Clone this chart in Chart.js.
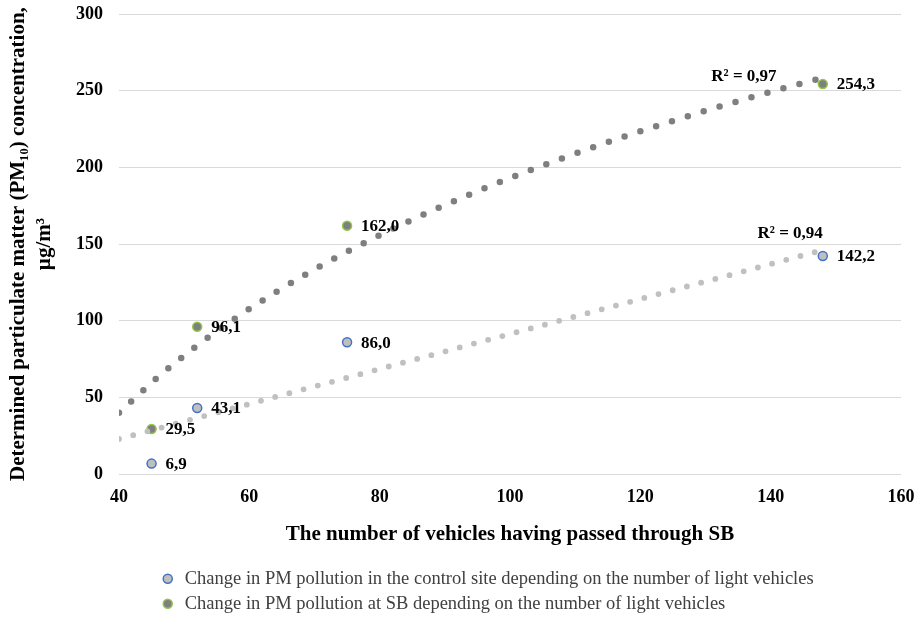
<!DOCTYPE html>
<html>
<head>
<meta charset="utf-8">
<title>PM10 vs vehicles</title>
<script src="https://cdn.jsdelivr.net/npm/chart.js@4/dist/chart.umd.min.js"></script>
<style>
    html, body { margin: 0; padding: 0; background: #ffffff; }
    #wrap { width: 918px; height: 617px; position: relative; }
</style>
</head>
<body>
<div id="wrap"><canvas id="pmChart"></canvas></div>
<script>
// Number of vehicles at each measurement
var vehicles = [45, 52, 75, 148];

// PM10 concentration, control site and SB
var controlValues = [6.9, 43.1, 86.0, 142.2];
var sbValues = [29.5, 96.1, 162.0, 254.3];

// Trend lines
var trendX = [40, 46, 52, 58, 64, 70, 76, 82, 88, 94, 100, 106, 112, 118, 124, 130, 136, 142, 148];
var sbTrend = [40.0, 63.4, 83.9, 102.1, 118.5, 133.5, 147.2, 159.9, 171.7, 182.7, 193.1, 202.8, 212.0, 220.7, 229.0, 236.9, 244.4, 251.6, 258.5];
var controlTrend = [23.0, 29.8, 36.7, 43.5, 50.4, 57.2, 64.0, 70.9, 77.7, 84.6, 91.4, 98.2, 105.1, 111.9, 118.8, 125.6, 132.4, 139.3, 146.1];

// Axis ticks
var xTicks = [40, 60, 80, 100, 120, 140, 160];
var yTicks = [0, 50, 100, 150, 200, 250, 300];

var seriesNames = [
    'Change in PM pollution in the control site depending on the number of light vehicles',
    'Change in PM pollution at SB depending on the number of light vehicles'
];
var r2Texts = ['R\u00b2 = 0,97', 'R\u00b2 = 0,94'];

var FONT = '"Liberation Serif", "Times New Roman", serif';
Chart.defaults.font.family = FONT;

function toPoints(xs, ys) {
    var pts = [];
    for (var i = 0; i < xs.length; i++) {
        pts.push({ x: xs[i], y: ys[i] });
    }
    return pts;
}

// Value labels next to the markers and the R² texts
var valueLabels = {
    id: 'valueLabels',
    afterDatasetsDraw: function(chart) {
        var ctx = chart.ctx;
        ctx.save();
        ctx.font = 'bold 17px ' + FONT;
        ctx.fillStyle = '#000000';
        ctx.textBaseline = 'middle';
        ctx.textAlign = 'left';
        for (var d = 0; d < 2; d++) {
            var meta = chart.getDatasetMeta(d);
            var data = chart.data.datasets[d].data;
            for (var j = 0; j < meta.data.length; j++) {
                var pt = meta.data[j];
                ctx.fillText(data[j].y.toFixed(1).replace('.', ','), pt.x + 14, pt.y + 1);
            }
        }
        var xs = chart.scales.x;
        var ys = chart.scales.y;
        ctx.textAlign = 'center';
        ctx.fillText(r2Texts[0], xs.getPixelForValue(135.9), ys.getPixelForValue(259.5));
        ctx.fillText(r2Texts[1], xs.getPixelForValue(143.0), ys.getPixelForValue(156.9));
        ctx.restore();
    }
};

// Move the legend rows so they start under the plot, like the original
var legendShift = {
    id: 'legendShift',
    beforeDraw: function(chart) {
        if (chart.legend) {
            chart.legend.left = 153.5;
        }
    }
};

var ctx = document.getElementById('pmChart').getContext('2d');

var pmChart = new Chart(ctx, {
    type: 'scatter',
    data: {
        datasets: [{
            label: seriesNames[0],
            data: toPoints(vehicles, controlValues),
            backgroundColor: '#bfbfbf',
            borderColor: '#4472c4',
            borderWidth: 1.5,
            pointStyle: 'circle',
            pointRadius: 4.5,
            order: 2
        }, {
            label: seriesNames[1],
            data: toPoints(vehicles, sbValues),
            backgroundColor: '#7f7f7f',
            borderColor: '#92c84a',
            borderWidth: 1.5,
            pointStyle: 'circle',
            pointRadius: 4.5,
            order: 2
        }, {
            label: 'sbTrend',
            data: toPoints(trendX, sbTrend),
            showLine: true,
            pointRadius: 0,
            borderColor: '#7f7f7f',
            borderWidth: 6.5,
            borderDash: [0, 16.6],
            borderCapStyle: 'round',
            cubicInterpolationMode: 'monotone',
            order: 1
        }, {
            label: 'controlTrend',
            data: toPoints(trendX, controlTrend),
            showLine: true,
            pointRadius: 0,
            borderColor: '#c0c0c0',
            borderWidth: 5.8,
            borderDash: [0, 14.7],
            borderCapStyle: 'round',
            cubicInterpolationMode: 'monotone',
            order: 1
        }]
    },
    options: {
        responsive: true,
        maintainAspectRatio: false,
        animation: false,
        layout: {
            padding: { top: 14, right: 17, bottom: -6, left: 0 }
        },
        scales: {
            x: {
                type: 'linear',
                min: 40,
                max: 160,
                afterBuildTicks: function(scale) {
                    scale.ticks = xTicks.map(function(v) { return { value: v }; });
                },
                // no vertical grid; invisible tick marks give the gap below the plot
                grid: {
                    display: true,
                    color: 'rgba(0,0,0,0)',
                    drawTicks: true,
                    tickLength: 12
                },
                border: { display: false },
                ticks: {
                    color: '#000000',
                    font: { size: 18, weight: 'bold' },
                    padding: 0
                },
                title: {
                    display: true,
                    text: 'The number of vehicles having passed through SB',
                    color: '#000000',
                    font: { size: 21, weight: 'bold' },
                    padding: { top: 14, bottom: 16 }
                }
            },
            y: {
                min: 0,
                max: 300,
                afterBuildTicks: function(scale) {
                    scale.ticks = yTicks.map(function(v) { return { value: v }; });
                },
                afterFit: function(scale) {
                    scale.width = 119;
                },
                grid: {
                    color: '#d9d9d9',
                    lineWidth: 1,
                    drawTicks: true,
                    tickLength: 16,
                    tickColor: 'rgba(0,0,0,0)'
                },
                border: { display: false },
                ticks: {
                    color: '#000000',
                    font: { size: 18, weight: 'bold' },
                    padding: 0
                },
                title: {
                    display: true,
                    text: ['Determined particulate matter (PM\u2081\u2080) concentration,', '\u00b5g/m\u00b3'],
                    color: '#000000',
                    font: { size: 21, weight: 'bold', lineHeight: 1.27 },
                    padding: { top: 5, bottom: 0 }
                }
            }
        },
        plugins: {
            tooltip: { enabled: false },
            legend: {
                position: 'bottom',
                align: 'start',
                labels: {
                    usePointStyle: true,
                    boxWidth: 15.5,
                    boxHeight: 6.4,
                    padding: 6.5,
                    color: '#404040',
                    font: { size: 18.5 },
                    filter: function(item) {
                        return item.datasetIndex < 2;
                    }
                }
            }
        }
    },
    plugins: [valueLabels, legendShift]
});
</script>
</body>
</html>
